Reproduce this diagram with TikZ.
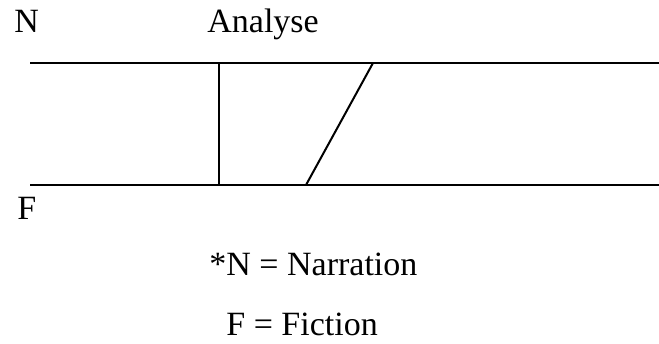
\documentclass[tikz,border=0pt]{standalone}
\usepackage{fontspec}
\setmainfont{Liberation Serif}
\tikzset{
  lbl/.style={font=\fontsize{17}{20}\selectfont, inner sep=0pt, anchor=base west},
  rule/.style={line width=1pt},
}
\begin{document}
\begin{tikzpicture}[x=0.5pt, y=-0.5pt]
    \useasboundingbox (0,0) rectangle (659,343);
    \node[lbl] (n) at (14,32) {N};
    \node[lbl] (analyse) at (207,32) {Analyse};
    \node[lbl] (f) at (17,219) {F};
    \coordinate (tl) at (30,63);
    \coordinate (tr) at (659,63);
    \coordinate (bl) at (30,185);
    \coordinate (br) at (659,185);
    \coordinate (vt) at (219,63);
    \coordinate (vb) at (219,185);
    \coordinate (st) at (373,63);
    \coordinate (sb) at (306,185);
    \draw[rule] (tl) -- (tr);
    \draw[rule] (bl) -- (br);
    \draw[rule] (vt) -- (vb);
    \draw[rule] (st) -- (sb);
    \node[lbl] (narr) at (209,275) {*N = Narration};
    \node[lbl] (fict) at (226,335) {F = Fiction};
  \end{tikzpicture}
\end{document}
